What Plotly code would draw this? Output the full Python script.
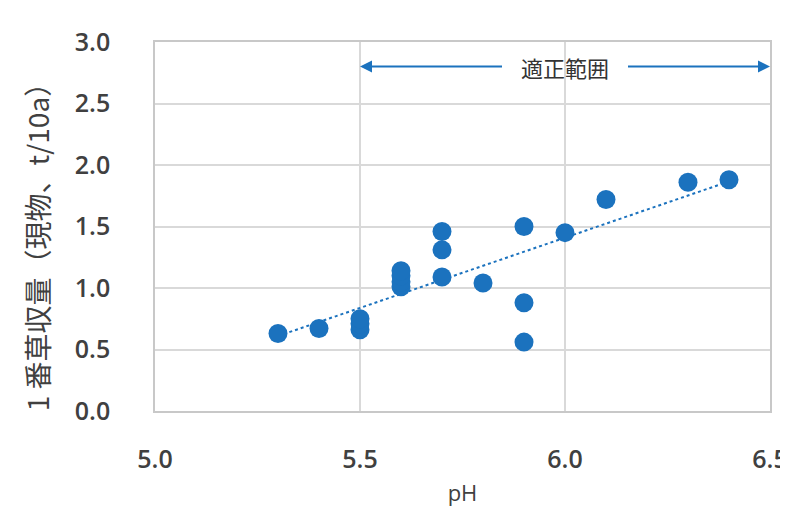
import numpy as np
import plotly.graph_objects as go

ph = [5.3, 5.4, 5.5, 5.5, 5.5, 5.6, 5.6, 5.6, 5.6, 5.7, 5.7, 5.7, 5.8, 5.9, 5.9, 5.9, 6.0, 6.1, 6.3, 6.4]
yield_t = [0.63, 0.67, 0.66, 0.71, 0.75, 1.01, 1.05, 1.10, 1.14, 1.09, 1.31, 1.46, 1.04, 1.50, 0.88, 0.56, 1.45, 1.72, 1.86, 1.88]

x_ticks = [5.0, 5.5, 6.0, 6.5]
y_ticks = [0.0, 0.5, 1.0, 1.5, 2.0, 2.5, 3.0]
y_title = "1 番草収量（現物、t/10a）"
x_title = "pH"
range_label = "適正範囲"
range_lo, range_hi = 5.5, 6.5
range_y = 2.8

blue = "#1b72be"
grey = "#404040"

slope, intercept = np.polyfit(ph, yield_t, 1)
tx = np.array([min(ph), max(ph)])
ty = slope * tx + intercept

fig = go.Figure()
fig.add_trace(go.Scatter(x=tx, y=ty, mode="lines",
                         line=dict(color=blue, width=2, dash="dot"),
                         hoverinfo="skip", showlegend=False))
fig.add_trace(go.Scatter(x=ph, y=yield_t, mode="markers",
                         marker=dict(color=blue, size=19),
                         showlegend=False))

mid = (range_lo + range_hi) / 2
fig.add_annotation(x=range_lo, y=range_y, ax=mid - 0.15, ay=range_y,
                   xref="x", yref="y", axref="x", ayref="y",
                   showarrow=True, arrowhead=2, arrowsize=1.2, arrowwidth=2,
                   arrowcolor=blue, text="")
fig.add_annotation(x=range_hi, y=range_y, ax=mid + 0.15, ay=range_y,
                   xref="x", yref="y", axref="x", ayref="y",
                   showarrow=True, arrowhead=2, arrowsize=1.2, arrowwidth=2,
                   arrowcolor=blue, text="")
fig.add_annotation(x=mid, y=range_y, xref="x", yref="y", text=range_label,
                   showarrow=False, font=dict(size=22, color="#333333",
                                              family="Noto Sans CJK JP"))
# y-axis title placed as a rotated text (sits a little below the plot centre)
fig.add_annotation(x=-0.192, y=0.465, xref="paper", yref="paper",
                   xanchor="center", yanchor="middle", textangle=-90,
                   text=y_title, showarrow=False,
                   font=dict(size=28, color=grey, family="Noto Sans CJK JP"))

fig.update_layout(
    width=780, height=501,
    margin=dict(l=147, r=18, t=34, b=98),
    plot_bgcolor="white", paper_bgcolor="white",
    font=dict(family="Open Sans, Noto Sans CJK JP", color=grey),
    xaxis=dict(range=[5.0, 6.5], tickvals=x_ticks,
               ticktext=[f"{v:.1f}" for v in x_ticks],
               showgrid=True, gridcolor="#d9d9d9", gridwidth=1.5,
               showline=True, linecolor="#c8c8c8", linewidth=1.5, mirror=True,
               zeroline=False, ticks="", ticklen=0, automargin=False,
               ticklabelstandoff=25, ticklabeloverflow="allow",
               tickfont=dict(size=25, color=grey, weight=600),
               title=dict(text=x_title, font=dict(size=22, color=grey), standoff=12)),
    yaxis=dict(range=[0, 3.0], tickvals=y_ticks,
               ticktext=[f"{v:.1f}" for v in y_ticks],
               showgrid=True, gridcolor="#d9d9d9", gridwidth=1.5,
               showline=True, linecolor="#c8c8c8", linewidth=1.5, mirror=True,
               zeroline=False, ticks="", ticklen=0, automargin=False,
               ticklabelstandoff=38, ticklabeloverflow="allow",
               tickfont=dict(size=25, color=grey, weight=600)),
)

fig.write_html("out.html")
